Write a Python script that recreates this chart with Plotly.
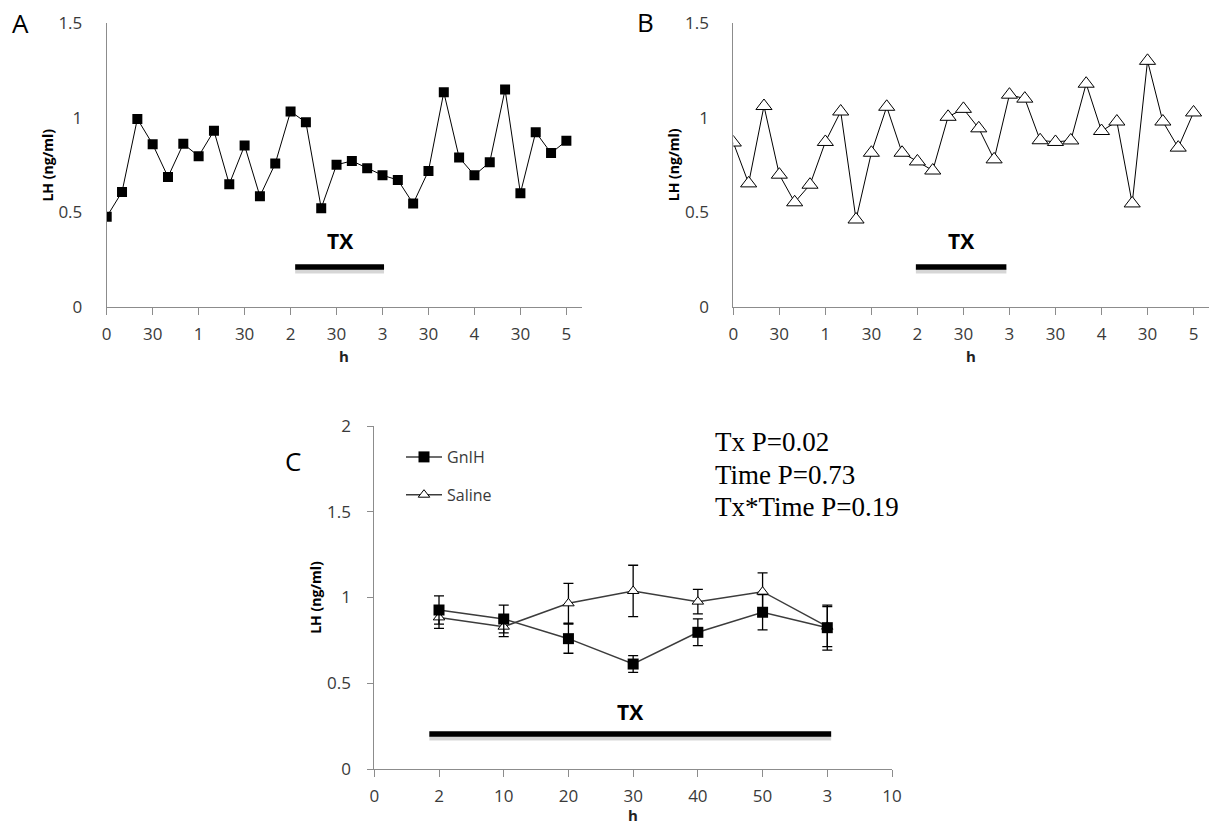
import plotly.graph_objects as go

# ---- Panels A and B: individual LH profiles, sampled every 10 min over 5 h ----
sample_min = [0, 10, 20, 30, 40, 50, 60, 70, 80, 90, 100, 110, 120, 130, 140, 150,
              160, 170, 180, 190, 200, 210, 220, 230, 240, 250, 260, 270, 280, 290, 300]

lh_gnih_ewe = [0.475, 0.607, 0.993, 0.859, 0.686, 0.861, 0.796, 0.930, 0.648, 0.852,
               0.584, 0.757, 1.032, 0.975, 0.521, 0.750, 0.771, 0.732, 0.695, 0.670,
               0.545, 0.718, 1.134, 0.789, 0.695, 0.764, 1.148, 0.600, 0.923, 0.812,
               0.877]

lh_saline_ewe = [0.868, 0.652, 1.061, 0.698, 0.552, 0.645, 0.871, 1.032, 0.461, 0.814,
                 1.057, 0.814, 0.768, 0.720, 1.004, 1.046, 0.943, 0.779, 1.121, 1.100,
                 0.880, 0.871, 0.879, 1.179, 0.929, 0.979, 0.546, 1.300, 0.979, 0.841,
                 1.027]

ab_tickvals = [0, 30, 60, 90, 120, 150, 180, 210, 240, 270, 300]
ab_ticktext = ["0", "30", "1", "30", "2", "30", "3", "30", "4", "30", "5"]
ab_yticks = [0, 0.5, 1, 1.5]
ab_yticktext = ["0", "0.5", "1", "1.5"]

# treatment window (minutes) and its bar / label height (ng/ml)
tx_a = [123, 181]
tx_b = [119, 178]
tx_bar_y_ab = 0.21
tx_label_y_ab = 0.345

# ---- Panel C: mean ± SEM during treatment ----
c_pos = [1, 2, 3, 4, 5, 6, 7]
c_gnih = [0.927, 0.875, 0.760, 0.612, 0.797, 0.914, 0.824]
c_gnih_sem = [0.082, 0.081, 0.085, 0.049, 0.078, 0.103, 0.131]
c_saline = [0.884, 0.830, 0.966, 1.038, 0.976, 1.034, 0.830]
c_saline_sem = [0.064, 0.058, 0.116, 0.150, 0.071, 0.110, 0.117]
c_tickvals = [0, 1, 2, 3, 4, 5, 6, 7, 8]
c_ticktext = ["0", "2", "10", "20", "30", "40", "50", "3", "10"]
c_yticks = [0, 0.5, 1, 1.5, 2]
c_yticktext = ["0", "0.5", "1", "1.5", "2"]
tx_c = [0.85, 7.06]
tx_bar_y_c = 0.204
tx_label_y_c = 0.33

stats_lines = ["Tx P=0.02", "Time P=0.73", "Tx*Time P=0.19"]

W, H = 1209, 824
SANS = "Open Sans"
TICK_COLOR = "#3a3a3a"
AXIS_COLOR = "#8c8c8c"

fig = go.Figure()

# Panel A
fig.add_trace(go.Scatter(
    x=sample_min, y=lh_gnih_ewe, mode="lines+markers", xaxis="x", yaxis="y",
    line=dict(color="black", width=1),
    marker=dict(symbol="square", size=10, color="black"),
    showlegend=False, hoverinfo="skip"))

# Panel B
fig.add_trace(go.Scatter(
    x=sample_min, y=lh_saline_ewe, mode="lines+markers", xaxis="x2", yaxis="y2",
    line=dict(color="black", width=1),
    marker=dict(symbol="triangle-up", size=14, color="white",
                line=dict(color="black", width=1)),
    showlegend=False, hoverinfo="skip"))

# Panel C
fig.add_trace(go.Scatter(
    x=c_pos, y=c_saline, mode="lines+markers", xaxis="x3", yaxis="y3",
    name="Saline", legendgroup="saline", legendrank=2,
    line=dict(color="#3c3c3c", width=1.5),
    marker=dict(symbol="triangle-up", size=10, color="white",
                line=dict(color="black", width=1)),
    error_y=dict(type="data", array=c_saline_sem, visible=True,
                 color="black", thickness=1.3, width=5),
    hoverinfo="skip"))
fig.add_trace(go.Scatter(
    x=c_pos, y=c_gnih, mode="lines+markers", xaxis="x3", yaxis="y3",
    name="GnIH", legendgroup="gnih", legendrank=1,
    line=dict(color="#3c3c3c", width=1.5),
    marker=dict(symbol="square", size=11, color="black"),
    error_y=dict(type="data", array=c_gnih_sem, visible=True,
                 color="black", thickness=1.3, width=5),
    hoverinfo="skip"))


def x_axis(domain, rng, tickvals, ticktext, anchor):
    return dict(domain=domain, range=rng, anchor=anchor, automargin=False,
                tickmode="array", tickvals=tickvals, ticktext=ticktext,
                showline=True, linecolor=AXIS_COLOR, linewidth=1,
                ticks="outside", ticklen=7, tickcolor=AXIS_COLOR, tickwidth=1,
                showgrid=False, zeroline=False, ticklabelstandoff=5,
                tickfont=dict(family=SANS, size=17, color=TICK_COLOR))


def y_axis(domain, rng, tickvals, ticktext, anchor, ticks):
    return dict(domain=domain, range=rng, anchor=anchor, automargin=False,
                tickmode="array", tickvals=tickvals, ticktext=ticktext,
                showline=True, linecolor=AXIS_COLOR, linewidth=1,
                ticks=ticks, ticklen=6, tickcolor=AXIS_COLOR, tickwidth=1,
                showgrid=False, zeroline=False,
                ticklabelstandoff=(13 if ticks else 20),
                tickfont=dict(family=SANS, size=17, color=TICK_COLOR))


ab_ydom = [1 - 306.7 / H, 1 - 23 / H]
a_xdom = [106.7 / W, 581.7 / W]
b_xdom = [733.3 / W, 1208.9 / W]
c_xdom = [374.3 / W, 892.0 / W]
c_ydom = [1 - 769 / H, 1 - 426 / H]

fig.update_layout(
    width=W, height=H,
    margin=dict(l=0, r=0, t=0, b=0, autoexpand=False),
    paper_bgcolor="white", plot_bgcolor="white",
    xaxis=x_axis(a_xdom, [0, 310], ab_tickvals, ab_ticktext, "y"),
    yaxis=y_axis(ab_ydom, [0, 1.5], ab_yticks, ab_yticktext, "x", ""),
    xaxis2=x_axis(b_xdom, [0, 310], ab_tickvals, ab_ticktext, "y2"),
    yaxis2=y_axis(ab_ydom, [0, 1.5], ab_yticks, ab_yticktext, "x2", ""),
    xaxis3=x_axis(c_xdom, [0, 8], c_tickvals, c_ticktext, "y3"),
    yaxis3=y_axis(c_ydom, [0, 2], c_yticks, c_yticktext, "x3", "outside"),
    showlegend=True,
    legend=dict(x=401 / W, y=1 - 440 / H, xanchor="left", yanchor="top",
                bgcolor="rgba(0,0,0,0)", tracegroupgap=14, itemwidth=36,
                traceorder="grouped",
                font=dict(family=SANS, size=16, color=TICK_COLOR)),
)

# treatment bars with a soft drop shadow underneath
for xref, yref, win, ybar in [("x", "y", tx_a, tx_bar_y_ab),
                              ("x2", "y2", tx_b, tx_bar_y_ab),
                              ("x3", "y3", tx_c, tx_bar_y_c)]:
    fig.add_shape(type="line", xref=xref, yref=yref, x0=win[0], x1=win[1],
                  ysizemode="pixel", yanchor=ybar, y0=-4, y1=-4,
                  line=dict(color="rgba(0,0,0,0.16)", width=5))
    fig.add_shape(type="line", xref=xref, yref=yref, x0=win[0], x1=win[1],
                  y0=ybar, y1=ybar, line=dict(color="black", width=5.5))

# "TX" labels above the bars
for xref, yref, win, ylab in [("x", "y", tx_a, tx_label_y_ab),
                              ("x2", "y2", tx_b, tx_label_y_ab),
                              ("x3", "y3", tx_c, tx_label_y_c)]:
    fig.add_annotation(xref=xref, yref=yref, x=(win[0] + win[1]) / 2, y=ylab,
                       text="<b>TX</b>", showarrow=False,
                       xanchor="center", yanchor="middle",
                       font=dict(family=SANS, size=21, color="black"))

# axis titles
for xd, yd, hy in [(a_xdom, ab_ydom, 356), (b_xdom, ab_ydom, 356), (c_xdom, c_ydom, 815)]:
    fig.add_annotation(xref="paper", yref="paper", x=xd[0] - 59 / W,
                       y=(yd[0] + yd[1]) / 2, text="<b>LH (ng/ml)</b>",
                       textangle=-90, showarrow=False,
                       xanchor="center", yanchor="middle",
                       font=dict(family=SANS, size=14, color="black"))
    fig.add_annotation(xref="paper", yref="paper", x=(xd[0] + xd[1]) / 2,
                       y=1 - hy / H, text="<b>h</b>", showarrow=False,
                       xanchor="center", yanchor="middle", borderpad=0,
                       font=dict(family=SANS, size=15, color="#222222"))

# panel letters
for letter, px, py in [("A", 20, 23), ("B", 645, 22), ("C", 293, 461)]:
    fig.add_annotation(xref="paper", yref="paper", x=px / W, y=1 - py / H,
                       text=letter, showarrow=False,
                       xanchor="center", yanchor="middle",
                       font=dict(family=SANS, size=26, color="black"))

# statistics block, one line per effect
for line, cy in zip(stats_lines, [442, 475, 507]):
    fig.add_annotation(xref="paper", yref="paper", x=713 / W, y=1 - cy / H,
                       xanchor="left", yanchor="middle", align="left",
                       text=line, showarrow=False,
                       font=dict(family="Liberation Serif", size=27, color="black"))

fig.write_html("out.html")
